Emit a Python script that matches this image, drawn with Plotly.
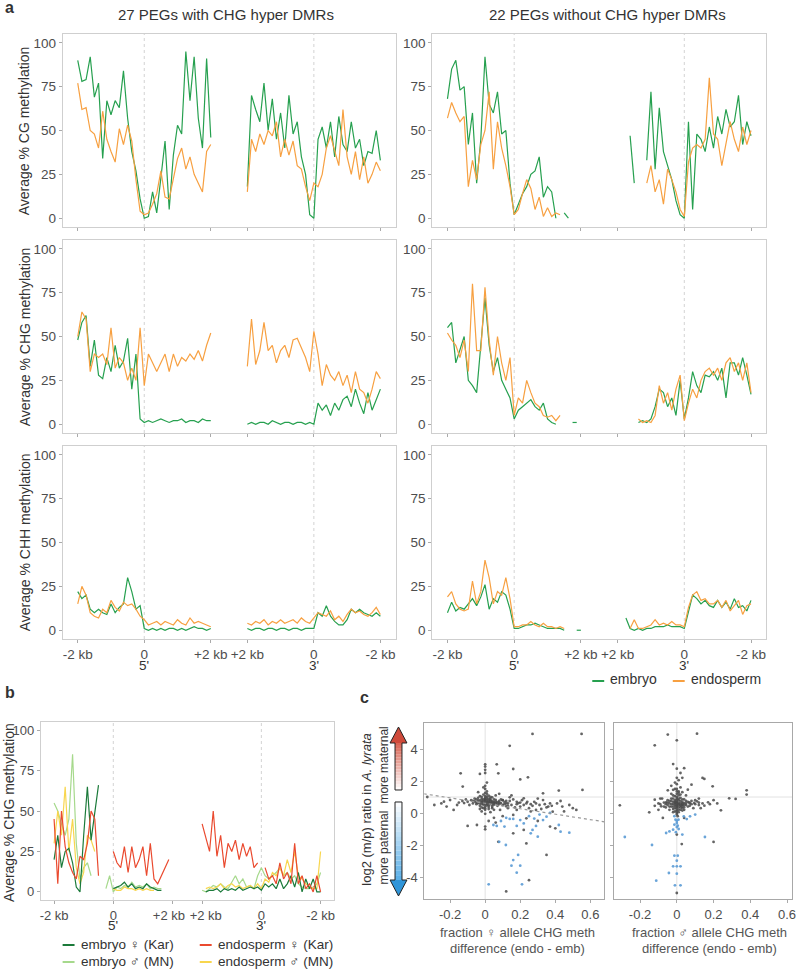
import numpy as np
import plotly.graph_objects as go

W, H = 800, 970
FONT = "Liberation Sans, Arial, sans-serif"

# ---------------- data ----------------
# 33 bins across each 4 kb window (-2 kb .. +2 kb)
BIN_KB = np.linspace(0, 4, 33)
GAP_A = 5.1   # where the 3' window starts on the panel-a axis
GAP_B = 5.0   # same for panel b

TICK_LABELS = ["-2 kb", "0", "+2 kb", "+2 kb", "0", "-2 kb"]
TICK_LABELS_B = ["-2 kb", "0", "+2 kb\u00a0\u00a0", "\u00a0\u00a0+2 kb", "0", "-2 kb"]

# panel a, 27 PEGs with CHG hyper DMRs
cg_with_emb_5 = [90, 78, 79, 92, 69, 77, 34, 67, 59, 67, 63, 84, 57, 38, 27, 11, 0, 1, 15, 3, 23, 44, 5, 36, 53, 48, 95, 67, 92, 57, 40, 91, 46]
cg_with_endo_5 = [77, 62, 63, 50, 48, 40, 61, 45, 38, 32, 51, 42, 53, 44, 22, 4, 2, 3, 8, 14, 27, 12, 11, 23, 34, 40, 28, 35, 25, 20, 15, 38, 42]
cg_with_emb_3 = [18, 70, 62, 55, 77, 50, 68, 45, 60, 40, 70, 48, 55, 35, 25, 2, 0, 45, 52, 40, 55, 35, 58, 42, 38, 55, 40, 45, 30, 38, 37, 50, 33]
cg_with_endo_3 = [15, 45, 38, 48, 42, 50, 47, 55, 35, 45, 36, 44, 30, 28, 18, 10, 20, 18, 25, 40, 47, 38, 30, 62, 35, 25, 38, 22, 35, 20, 25, 32, 27]

chg_with_emb_5 = [48, 58, 62, 33, 48, 28, 26, 38, 30, 45, 32, 36, 49, 20, 40, 3, 1, 2, 1, 2, 3, 2, 1, 2, 2, 3, 1, 2, 2, 1, 3, 2, 2]
chg_with_endo_5 = [50, 64, 60, 30, 40, 38, 40, 34, 55, 32, 38, 35, 25, 32, 25, 55, 22, 40, 35, 30, 35, 40, 30, 40, 33, 38, 36, 40, 37, 42, 36, 45, 52]
chg_with_emb_3 = [0, 1, 0, 1, 1, 0, 2, 1, 0, 1, 1, 0, 1, 1, 0, 1, 0, 12, 8, 11, 5, 12, 8, 14, 16, 10, 20, 12, 6, 18, 8, 14, 20]
chg_with_endo_3 = [33, 60, 34, 42, 58, 42, 45, 35, 42, 45, 38, 48, 49, 44, 38, 30, 53, 40, 22, 34, 28, 25, 30, 22, 28, 18, 30, 20, 18, 12, 20, 30, 26]

chh_with_emb_5 = [22, 18, 20, 12, 10, 12, 10, 9, 15, 10, 13, 15, 30, 22, 12, 14, 1, 0, 1, 0, 1, 0, 1, 1, 0, 1, 0, 1, 2, 1, 1, 0, 1]
chh_with_endo_5 = [15, 25, 20, 10, 8, 7, 12, 10, 17, 13, 11, 16, 14, 15, 12, 8, 6, 3, 4, 5, 3, 5, 4, 3, 6, 4, 3, 7, 4, 5, 4, 3, 2]
chh_with_emb_3 = [1, 0, 1, 1, 0, 1, 1, 0, 1, 1, 0, 1, 1, 0, 1, 1, 1, 10, 8, 14, 8, 5, 3, 3, 6, 12, 10, 12, 10, 9, 8, 10, 8]
chh_with_endo_3 = [4, 3, 5, 4, 6, 3, 5, 4, 6, 4, 5, 6, 4, 7, 5, 4, 7, 10, 9, 8, 11, 6, 8, 5, 9, 12, 10, 11, 9, 8, 10, 13, 9]

# panel a, 22 PEGs without CHG hyper DMRs
cg_without_emb_5 = [68, 85, 90, 73, 75, 42, 60, 20, 45, 92, 65, 60, 72, 48, 50, 20, 2, 8, 14, 18, 25, 27, 35, 12, 18, 15, 0, None, 3, 0, None, None, None]
cg_without_endo_5 = [57, 66, 60, 55, 58, 18, 33, 22, 42, 50, 72, 28, 55, 40, 30, 18, 2, 5, 14, 22, 17, 5, 12, 1, 6, 1, 3, 2, None, None, None, None, None]
cg_without_emb_3 = [None, None, None, 47, 20, None, None, 33, 72, 28, 63, 38, 30, 22, 10, 2, 0, 55, 5, 48, 45, 38, 52, 40, 58, 48, 62, 52, 55, 70, 42, 55, 47]
cg_without_endo_3 = [None, None, None, None, None, None, None, 20, 30, 15, 22, 8, 28, 22, 15, 5, 1, 32, 40, 42, 40, 45, 80, 48, 45, 30, 42, 55, 45, 38, 52, 42, 50]

chg_without_emb_5 = [55, 58, 35, 42, 50, 25, 22, 18, 45, 72, 45, 30, 38, 25, 20, 15, 3, 8, 10, 12, 14, 10, 8, 12, 3, 1, 0, None, None, None, 1, 1, None]
chg_without_endo_5 = [52, 48, 45, 38, 48, 30, 80, 42, 42, 78, 48, 28, 50, 35, 25, 38, 5, 15, 12, 25, 18, 12, 10, 5, 4, 5, 2, 5, None, None, None, None, None]
chg_without_emb_3 = [None, None, None, None, None, 1, 2, 1, 3, 10, 20, 18, 10, 15, 5, 25, 3, 15, 30, 22, 18, 28, 27, 30, 25, 32, 15, 35, 35, 28, 38, 28, 17]
chg_without_endo_3 = [None, None, None, None, None, 3, 1, 2, 1, 5, 22, 12, 18, 8, 20, 28, 2, 12, 20, 15, 25, 30, 32, 28, 32, 25, 35, 38, 30, 35, 25, 35, 18]

chh_without_emb_5 = [10, 16, 11, 13, 12, 15, 18, 14, 19, 26, 12, 18, 16, 22, 20, 12, 1, 1, 2, 3, 3, 4, 3, 2, 1, 1, 1, 1, 0, None, None, 0, 0]
chh_without_endo_5 = [19, 22, 15, 12, 11, 12, 28, 15, 22, 40, 30, 15, 22, 20, 30, 18, 2, 2, 3, 3, 5, 3, 2, 4, 2, 2, 1, 2, 1, None, None, None, None]
chh_without_emb_3 = [None, None, 7, 1, 0, 1, 0, 1, 1, 2, 2, 2, 3, 2, 2, 2, 1, 10, 20, 18, 15, 17, 14, 13, 17, 13, 16, 12, 18, 13, 14, 11, 17]
chh_without_endo_3 = [None, None, None, 1, 6, 1, 1, 2, 3, 6, 3, 4, 3, 5, 3, 3, 2, 13, 20, 22, 17, 18, 15, 15, 17, 13, 17, 11, 14, 17, 9, 14, 15]

# panel b, allele-specific CHG methylation
b_emb_mat_5 = [20, 35, 15, 25, 27, 18, 3, 0, 35, 65, 32, 48, 66, None, None, None, 2, 3, 4, 6, 3, 5, 2, 3, 2, 5, 3, 2, 1, 1, None, None, None]
b_emb_pat_5 = [55, 50, 42, 35, 45, 85, 30, 8, 15, 18, 10, None, None, None, 2, 10, 0, 3, 2, 4, 3, 6, 3, 4, 3, 5, 2, 3, 2, 2, None, None, None]
b_endo_mat_5 = [45, 5, 50, 28, 18, 12, 8, 22, 20, 30, 50, 45, 10, None, None, None, 25, 18, 15, 28, 12, 28, 15, 20, 28, 10, 30, 8, 5, 10, 15, 20, None]
b_endo_pat_5 = [30, 50, 35, 65, 25, 45, 15, 5, 12, 35, 32, 25, None, None, None, None, 2, 1, 1, 3, 2, 2, 1, 2, 1, 2, 1, 1, None, None, None, None, None]
b_emb_mat_3 = [None, 0, 1, 1, 2, 0, 2, 1, 2, 1, 3, 1, 2, 3, 2, 3, 1, 5, 3, 5, 2, 8, 2, 5, 10, 3, 12, 0, 8, 2, 8, 0, 0]
b_emb_pat_3 = [1, 0, 2, 4, 3, 5, 3, 2, 6, 10, 5, 8, 3, 4, 2, 10, 15, 10, 8, 10, 12, 15, 10, 12, 8, 10, 5, 3, 2, 2, 3, 5, 12]
b_endo_mat_3 = [42, 33, 25, 50, 22, 35, 15, 30, 25, 32, 20, 30, 22, 28, 15, 18, None, 15, 8, 10, 5, 18, 8, 12, 5, 30, 5, 10, 2, 5, 0, 10, 0]
b_endo_pat_3 = [None, 2, 3, 2, 3, 5, 2, 4, 5, 3, 4, 2, 3, 4, 2, 5, 2, 8, 6, 12, 10, 15, 10, 20, 12, 25, 10, 8, 5, 3, 2, 2, 25]

# panel c, (x = CHG meth difference, y = log2 m/p)
c_mat_gray = [
    (0.27, 4.94), (0.55, 4.94), (0.14, 4.2), (0.16, 2.75), (-0.14, 2.48), (-0.03, 2.44), (0.066, 3.04),
    (0.075, 2.48), (0.2, 2.1), (0.244, 2.23), (-0.128, 1.65), (0.42, 1.4), (0.555, 1.44), (0.33, 1.23),
    (0, 3.04), (0, 2.9), (0, 2.7), (0, 2.5), (-0.29, 0.5), (-0.235, 0.71), (-0.2, 0.81), (-0.16, 0.5),
    (-0.18, 0.19), (-0.10, -0.81), (-0.047, -0.75), (0, -0.85), (0, -1.02), (-0.33, 1.0), (0.10, 0.8),
    (0.12, 0.6), (0.14, 0.98), (0.18, 0.7), (0.2, 0.4), (0.22, 0.92), (0.235, 0.6), (0.25, 0.3), (0.28, 0.7),
    (0.29, 0.19), (0.31, 0.5), (0.33, 0.81), (0.35, 0.35), (0.37, 0.6), (0.385, 0.08), (0.41, 0.6), (0.44, 0.4),
    (0.48, 0.5), (0.52, 0.19), (0.18, 0.19), (0.085, 0.19), (0.16, -0.12), (0.235, -0.33), (0.37, -0.85),
    (0.40, -0.96), (0.16, -1.27), (0.22, -1.06), (0.35, -2.62), (0.235, -1.9), (0.12, -4.9), (0.075, -1.8),
    (0.25, -4.2), (0.3, -0.5), (0.45, 0.1), (0.5, 0.3), (-0.25, 0.6), (-0.22, 0.4), (0.13, 0.3), (0.26, 0.1),
    (0.32, 0.25), (0.38, 0.45), (0.05, -0.3), (0.1, -0.2), (0.27, 0.45), (0.21, 0.8), (0.15, 1.1), (0.3, 0.9),
    (0.43, 0.75), (0.02, -0.5), (0.06, -0.6),
    (-0.06, 0.72), (-0.05, 0.85), (-0.05, 0.55), (-0.04, 0.95), (-0.04, 0.62), (-0.03, 0.78), (-0.03, 0.45),
    (-0.03, 1.05), (-0.02, 0.68), (-0.02, 0.88), (-0.02, 0.35), (-0.01, 0.75), (-0.01, 0.52), (-0.01, 1.15),
    (0.0, 0.65), (0.0, 0.82), (0.0, 0.42), (0.0, 0.95), (0.0, 1.25), (0.0, 0.2), (0.01, 0.7), (0.01, 0.58),
    (0.01, 0.9), (0.01, 1.35), (0.02, 0.62), (0.02, 0.78), (0.02, 0.48), (0.02, 1.08), (0.03, 0.72),
    (0.03, 0.55), (0.03, 0.88), (0.04, 0.65), (0.04, 0.4), (0.04, 0.98), (0.05, 0.7), (0.05, 0.52),
    (0.06, 0.82), (0.06, 0.6), (0.07, 0.68), (0.07, 0.45), (0.08, 0.75), (0.08, 0.55), (0.09, 0.62),
    (0.1, 0.8), (0.1, 0.5), (0.11, 0.68), (0.12, 0.42), (0.13, 0.6), (-0.07, 0.6), (-0.08, 0.8), (-0.09, 0.5),
    (-0.1, 0.7), (-0.12, 0.62), (0.0, 1.5), (0.0, 1.7), (0.01, 1.9), (-0.01, 1.6), (0.02, 0.25), (-0.02, 0.1),
    (0.03, 0.05), (0.0, -0.05), (0.05, 0.2), (0.06, 1.1), (0.08, 1.2), (-0.04, 1.3), (0.14, 0.75), (0.15, 0.5),
    (0.16, 0.85), (0.17, 0.35), (0.19, 0.62),
    (-0.05, 0.65), (-0.04, 0.78), (-0.03, 0.6), (-0.02, 0.75), (-0.02, 0.55), (-0.01, 0.85), (-0.01, 0.62),
    (0.0, 0.72), (0.0, 0.55), (0.0, 0.88), (0.01, 0.78), (0.01, 0.48), (0.01, 1.02), (0.02, 0.7), (0.02, 0.9),
    (0.03, 0.62), (0.03, 0.8), (0.04, 0.72), (0.04, 0.52), (0.05, 0.62), (0.05, 0.85), (0.06, 0.7),
    (0.07, 0.58), (0.08, 0.65), (-0.06, 0.9), (-0.07, 0.75), (0.0, 1.05), (0.01, 1.2), (-0.02, 1.0),
    (0.03, 1.0), (0.02, 0.38), (-0.01, 0.3), (0.0, 0.3), (0.04, 0.3), (-0.03, 0.25), (0.09, 0.85),
    (0.11, 0.55), (0.12, 0.75), (0.13, 0.45), (-0.11, 0.85), (-0.13, 0.75), (-0.15, 0.65), (0.18, 0.55),
    (0.2, 0.65), (0.22, 0.5), (0.24, 0.7), (0.26, 0.55), (0.29, 0.6), (0.34, 0.55), (0.36, 0.4),
]
c_mat_blue = [
    (0.047, -0.75), (0.066, -0.81), (0.11, -0.85), (0.14, -0.37), (0.16, -0.37), (0.18, -0.81), (0.2, -0.44),
    (0.22, -0.65), (0.26, -1.27), (0.27, -1.06), (0.29, -0.81), (0.30, -1.48), (0.33, -0.44), (0.35, -0.23),
    (0.42, -0.75), (0.43, -1.17), (0.48, -1.23), (0.37, 0.0), (0.118, -2.0), (0.188, -2.62), (0.16, -2.94),
    (0.15, -3.29), (0.2, -3.29), (0.18, -3.73), (0.21, -4.46), (0.02, -4.46), (0.08, -1.8), (0.25, -0.2),
    (0.12, -0.3), (0.28, -0.35), (0.31, -0.1), (0.09, -0.5),
]
c_pat_gray = [
    (-0.049, 4.9), (0.11, 4.96), (0, 4.54), (-0.12, 4.23), (-0.02, 3.06), (0, 2.77), (0.04, 2.8), (0.02, 2.5),
    (0.03, 2.2), (0.08, 1.77), (0.06, 1.46), (0.14, 2.19), (0.15, 2.13), (0.195, 1.67), (0.38, 1.42),
    (0.38, 1.15), (0.32, 0.88), (0.285, 0.92), (0.24, 0.17), (0.17, 0.67), (0.15, 0.46), (-0.31, 0.48),
    (-0.15, 0.04), (-0.12, 0.83), (-0.085, 0.42), (-0.076, -0.31), (-0.058, 0.67), (-0.049, 1.42),
    (0.04, -0.31), (0.03, 0.52), (0.068, 0.67), (0.095, 0.63), (0.11, 0.73), (0.2, -1.81), (0.027, -1.94),
    (0, -1.35), (0.005, -0.2), (0, -5.0), (-0.03, 1.7), (0.05, 1.1), (-0.09, 0.9), (0.13, 0.3), (-0.1, 0.2),
    (0.2, 0.8), (0.12, 0.9),
    (-0.04, 0.6), (-0.03, 0.75), (-0.03, 0.4), (-0.02, 0.9), (-0.02, 0.55), (-0.02, 0.25), (-0.01, 0.65),
    (-0.01, 0.45), (-0.01, 1.05), (-0.01, 0.1), (0.0, 0.5), (0.0, 0.7), (0.0, 0.3), (0.0, 0.9), (0.0, 1.2),
    (0.0, 0.0), (0.0, 1.5), (0.0, 1.8), (0.0, 2.2), (0.01, 0.55), (0.01, 0.8), (0.01, 0.35), (0.01, 1.1),
    (0.01, 1.35), (0.02, 0.6), (0.02, 0.45), (0.02, 0.95), (0.02, 0.2), (0.03, 0.7), (0.03, 0.5), (0.03, 0.3),
    (0.04, 0.62), (0.04, 0.85), (0.05, 0.5), (0.05, 0.75), (-0.05, 0.5), (-0.05, 0.8), (-0.06, 0.35),
    (-0.07, 0.65), (0.06, 0.4), (0.07, 0.6), (0.08, 0.55), (-0.08, 0.9), (-0.03, 1.2), (0.02, 1.6),
    (-0.01, 1.9), (0.01, 2.05), (-0.02, 1.45), (0.03, 1.3), (0.0, 0.6), (0.0, 0.4), (-0.01, 0.8), (0.01, 0.2),
    (0.0, -0.1), (0.04, 0.2), (-0.04, 0.2), (0.1, 0.8), (0.12, 0.5), (-0.1, 0.6), (0.09, 0.3),
    (-0.03, 0.55), (-0.02, 0.7), (-0.02, 0.4), (-0.01, 0.55), (-0.01, 0.3), (-0.01, 0.7), (0.0, 0.45),
    (0.0, 0.65), (0.0, 0.8), (0.0, 0.2), (0.0, 1.0), (0.01, 0.5), (0.01, 0.65), (0.01, 0.9), (0.02, 0.5),
    (0.02, 0.75), (0.02, 0.35), (0.03, 0.6), (0.03, 0.4), (0.03, 0.85), (-0.03, 0.9), (-0.04, 0.4),
    (-0.04, 0.75), (0.04, 0.5), (0.04, 0.35), (-0.02, 1.1), (0.01, 1.25), (0.0, 1.35), (-0.01, 1.5),
    (0.02, 1.15), (-0.05, 0.65), (0.05, 0.6), (0.06, 0.7), (-0.06, 0.55), (0.0, 0.1), (0.01, 0.05),
    (-0.02, 0.05), (0.03, 0.15), (0.07, 0.45), (-0.07, 0.4), (0.08, 0.75), (0.1, 0.55), (-0.09, 0.55),
    (0.12, 0.65), (0.14, 0.6), (0.18, 0.55), (0.22, 0.6), (-0.12, 0.45),
]
c_pat_blue = [
    (-0.283, -1.5), (-0.135, -2.0), (-0.112, -4.23), (-0.043, -3.75), (-0.02, -3.33), (0, -3.33), (0.02, -3.33),
    (-0.013, -2.67), (0.005, -2.67), (0, -2.98), (0, -3.79), (-0.01, -4.52), (0.02, -4.52), (0.153, -1.5),
    (-0.04, -1.15), (-0.02, -1.04), (-0.013, -0.2), (-0.007, -0.42), (0, -0.63), (0.005, -0.79), (0, -0.88),
    (0.009, -0.42), (-0.013, -0.73), (-0.058, -1.25), (0.03, -1.35), (0.1, -0.1), (0.072, -0.21),
    (0.054, -0.38), (0.038, -0.21), (0.0, -0.5), (0.01, -1.0), (-0.005, -1.2),
]
c_fit_x = [-0.35, 0.68]
c_fit_y = [1.2, -0.55]
C_YTICKS = [-4, -2, 0, 2, 4]
C_YLABELS = ["-4", "-2", "0", "2", "4"]
C_XTICKS = [-0.2, 0, 0.2, 0.4, 0.6]
C_XLABELS = ["-0.2", "0", "0.2", "0.4", "0.6"]

# ---------------- style ----------------
GREEN = "#26a04f"
ORANGE = "#f7a041"
B_EMB_MAT = "#1b7a3a"
B_EMB_PAT = "#a6d98c"
B_ENDO_MAT = "#ea4a2f"
B_ENDO_PAT = "#f8d64e"
GRAY_PT = "#4a4a4a"
BLUE_PT = "#5b9bd5"
TICK_COL = "#4d4d4d"


def px(x):
    return x / W


def py(y):
    return 1 - y / H


def sfx(n):
    return "" if n == 1 else str(n)


layout = dict(
    width=W, height=H, margin=dict(l=0, r=0, t=0, b=0),
    plot_bgcolor="white", paper_bgcolor="white", showlegend=False,
    font=dict(family=FONT, color="#333333"),
)
shapes = []
annotations = []


def add_axes(n, xdom, ydom, xrange, yrange, xticks, yticks, xlabels=None, ylabels=None,
             show_x=True, show_y=True, border="#cfcfcf", fsize=13):
    s = sfx(n)
    common = dict(showline=True, mirror=True, linecolor=border, linewidth=1, ticks="outside",
                  ticklen=3, tickcolor="#aaaaaa", showgrid=False, zeroline=False, tickangle=0,
                  tickfont=dict(size=fsize, color=TICK_COL, family=FONT))
    layout["xaxis" + s] = dict(domain=[px(xdom[0]), px(xdom[1])], range=xrange, anchor="y" + s,
                               tickvals=xticks, ticktext=xlabels, showticklabels=show_x, **common)
    layout["yaxis" + s] = dict(domain=[py(ydom[1]), py(ydom[0])], range=yrange, anchor="x" + s,
                               tickvals=yticks, ticktext=ylabels, showticklabels=show_y, **common)


def vline(n, x):
    s = sfx(n)
    shapes.append(dict(type="line", xref="x" + s, yref="y" + s + " domain", x0=x, x1=x, y0=0, y1=1,
                       line=dict(color="#c8c8c8", width=0.8, dash="dot"), layer="below"))


def text(x, y, t, size=14, color="#333333", angle=0, xanchor="center", bold=False):
    annotations.append(dict(x=px(x), y=py(y), xref="paper", yref="paper", text=f"<b>{t}</b>" if bold else t,
                            showarrow=False, textangle=angle, xanchor=xanchor, yanchor="middle",
                            font=dict(size=size, color=color, family=FONT)))


fig = go.Figure()


def profile(n, v5, v3, color, gap, width=1.2):
    s = sfx(n)
    x = list(BIN_KB) + [None] + list(BIN_KB + gap)
    y = list(v5) + [None] + list(v3)
    fig.add_trace(go.Scatter(x=x, y=y, mode="lines", xaxis="x" + s, yaxis="y" + s,
                             line=dict(color=color, width=width), hoverinfo="skip"))


# ---------------- panel a ----------------
A_X = [(62, 397), (434, 770)]
A_Y = [(34, 227), (240, 433), (446, 639)]
a_ticks = [0, 2, 4, GAP_A, GAP_A + 2, GAP_A + 4]

panels_a = [
    (1, cg_with_emb_5, cg_with_emb_3, cg_with_endo_5, cg_with_endo_3),
    (2, cg_without_emb_5, cg_without_emb_3, cg_without_endo_5, cg_without_endo_3),
    (3, chg_with_emb_5, chg_with_emb_3, chg_with_endo_5, chg_with_endo_3),
    (4, chg_without_emb_5, chg_without_emb_3, chg_without_endo_5, chg_without_endo_3),
    (5, chh_with_emb_5, chh_with_emb_3, chh_with_endo_5, chh_with_endo_3),
    (6, chh_without_emb_5, chh_without_emb_3, chh_without_endo_5, chh_without_endo_3),
]
for n, e5, e3, o5, o3 in panels_a:
    r, c = (n - 1) // 2, (n - 1) % 2
    add_axes(n, A_X[c], A_Y[r], [-0.455, GAP_A + 4.455], [-5, 105], a_ticks, [0, 25, 50, 75, 100],
             xlabels=TICK_LABELS, show_x=(r == 2), fsize=13.5)
    vline(n, 2)
    vline(n, GAP_A + 2)
    profile(n, e5, e3, GREEN, GAP_A)
    profile(n, o5, o3, ORANGE, GAP_A)

for c in range(2):
    x0, x1 = A_X[c]
    scale = (x1 - x0) / (GAP_A + 4.91)
    text(x0 + (0.455 + 2) * scale, 665, "5'", size=13.5)
    text(x0 + (0.455 + GAP_A + 2) * scale, 665, "3'", size=13.5)

text(226, 15, "27 PEGs with CHG hyper DMRs", size=15)
text(610, 15, "22 PEGs without CHG hyper DMRs", size=15)
for (y0, y1), t in zip(A_Y, ["Average % CG methylation", "Average % CHG methylation",
                             "Average % CHH methylation"]):
    text(24, (y0 + y1) / 2, t, size=14, angle=-90)

# legend a
for x0, col, lab in [(595, GREEN, "embryo"), (676, ORANGE, "endosperm")]:
    shapes.append(dict(type="line", xref="paper", yref="paper", x0=px(x0), x1=px(x0 + 12),
                       y0=py(681), y1=py(681), line=dict(color=col, width=2)))
    text(x0 + 16, 679, lab, size=14, xanchor="left")

# ---------------- panel b ----------------
b_ticks = [0, 2, 4, GAP_B, GAP_B + 2, GAP_B + 4]
add_axes(7, (40, 335), (722, 900), [-0.45, GAP_B + 4.45], [-5, 105], b_ticks, [0, 25, 50, 75, 100],
         xlabels=TICK_LABELS_B, fsize=13)
vline(7, 2)
vline(7, GAP_B + 2)
profile(7, b_emb_pat_5, b_emb_pat_3, B_EMB_PAT, GAP_B, 1.2)
profile(7, b_endo_pat_5, b_endo_pat_3, B_ENDO_PAT, GAP_B, 1.2)
profile(7, b_emb_mat_5, b_emb_mat_3, B_EMB_MAT, GAP_B, 1.2)
profile(7, b_endo_mat_5, b_endo_mat_3, B_ENDO_MAT, GAP_B, 1.2)
b_scale = (335 - 40) / (GAP_B + 4.9)
text(40 + (0.45 + 2) * b_scale, 925, "5'", size=13.5)
text(40 + (0.45 + GAP_B + 2) * b_scale, 925, "3'", size=13.5)
text(8, 812, "Average % CHG methylation", size=14, angle=-90)

for x0, y0, col, lab in [(62, 944, B_EMB_MAT, "embryo ♀ (Kar)"), (200, 944, B_ENDO_MAT, "endosperm ♀ (Kar)"),
                         (62, 961, B_EMB_PAT, "embryo ♂ (MN)"), (200, 961, B_ENDO_PAT, "endosperm ♂ (MN)")]:
    shapes.append(dict(type="line", xref="paper", yref="paper", x0=px(x0), x1=px(x0 + 12),
                       y0=py(y0 + 1), y1=py(y0 + 1), line=dict(color=col, width=2)))
    text(x0 + 16, y0, lab, size=13.5, xanchor="left")

# ---------------- panel c ----------------
add_axes(8, (426, 607), (723, 899), [-0.347, 0.679], [-5.375, 5.625], C_XTICKS, C_YTICKS,
         xlabels=C_XLABELS, ylabels=C_YLABELS, border="#a8a8a8", fsize=13)
add_axes(9, (617, 796), (723, 899), [-0.341, 0.627], [-5.375, 5.625], C_XTICKS, C_YTICKS,
         xlabels=C_XLABELS, show_y=False, border="#a8a8a8", fsize=13)

for n in (8, 9):
    s = sfx(n)
    shapes.append(dict(type="line", xref="x" + s, yref="y" + s + " domain", x0=0, x1=0, y0=0, y1=1,
                       line=dict(color="#e2e2e2", width=1), layer="below"))
    shapes.append(dict(type="line", xref="x" + s + " domain", yref="y" + s, x0=0, x1=1, y0=1, y1=1,
                       line=dict(color="#e2e2e2", width=1), layer="below"))

for n, gray, blue in [(8, c_mat_gray, c_mat_blue), (9, c_pat_gray, c_pat_blue)]:
    s = sfx(n)
    gx, gy = zip(*gray)
    bx, by = zip(*blue)
    fig.add_trace(go.Scatter(x=gx, y=gy, mode="markers", xaxis="x" + s, yaxis="y" + s,
                             marker=dict(color=GRAY_PT, size=2.8, opacity=0.85), hoverinfo="skip"))
    fig.add_trace(go.Scatter(x=bx, y=by, mode="markers", xaxis="x" + s, yaxis="y" + s,
                             marker=dict(color=BLUE_PT, size=2.8, opacity=0.9), hoverinfo="skip"))

fig.add_trace(go.Scatter(x=c_fit_x, y=c_fit_y, mode="lines", xaxis="x8", yaxis="y8",
                         line=dict(color="#9a9a9a", width=1.2, dash="dot"), hoverinfo="skip"))

text(520, 932, "fraction ♀ allele CHG meth", size=13, color="#555555")
text(520, 948, "difference (endo - emb)", size=13, color="#555555")
text(713, 932, "fraction ♂ allele CHG meth", size=13, color="#555555")
text(713, 948, "difference (endo - emb)", size=13, color="#555555")

text(367, 810, "log2 (m/p) ratio in <i>A. lyrata</i>", size=13, angle=-90)
text(385, 765, "more maternal", size=12, angle=-90)
text(385, 848, "more paternal", size=12, angle=-90)


# gradient arrows next to the panel-c y axis
def hexrgb(h):
    return tuple(int(h[i:i + 2], 16) for i in (1, 3, 5))


def mix(c1, c2, t):
    a, b = hexrgb(c1), hexrgb(c2)
    return "rgb(%d,%d,%d)" % tuple(round(a[i] + (b[i] - a[i]) * t) for i in range(3))


def gradient(x0, x1, y_from, y_to, c_from, c_to, steps=16):
    for i in range(steps):
        ya = y_from + (y_to - y_from) * i / steps
        yb = y_from + (y_to - y_from) * (i + 1) / steps
        shapes.append(dict(type="rect", xref="paper", yref="paper", x0=px(x0), x1=px(x1),
                           y0=py(ya), y1=py(yb), fillcolor=mix(c_from, c_to, (i + 0.5) / steps),
                           line=dict(width=0)))


def path(points):
    return "M " + " L ".join(f"{px(x):.5f},{py(y):.5f}" for x, y in points) + " Z"


cx, sw, hw = 400, 3.5, 8.5
# red (up)
gradient(cx - sw, cx + sw, 790, 743, "#ffffff", "#d8604f")
shapes.append(dict(type="path", xref="paper", yref="paper",
                   path=path([(cx - hw, 743), (cx, 727), (cx + hw, 743)]),
                   fillcolor="#cf4a3a", line=dict(width=0)))
shapes.append(dict(type="path", xref="paper", yref="paper",
                   path=path([(cx - sw, 790), (cx - sw, 743), (cx - hw, 743), (cx, 727),
                              (cx + hw, 743), (cx + sw, 743), (cx + sw, 790)]),
                   line=dict(color="#222222", width=1)))
# blue (down)
gradient(cx - sw, cx + sw, 802, 880, "#ffffff", "#58ade6")
shapes.append(dict(type="path", xref="paper", yref="paper",
                   path=path([(cx - hw, 880), (cx, 896), (cx + hw, 880)]),
                   fillcolor="#2f95d9", line=dict(width=0)))
shapes.append(dict(type="path", xref="paper", yref="paper",
                   path=path([(cx - sw, 802), (cx - sw, 880), (cx - hw, 880), (cx, 896),
                              (cx + hw, 880), (cx + sw, 880), (cx + sw, 802)]),
                   line=dict(color="#222222", width=1)))

# panel letters
text(2, 8, "a", size=16, xanchor="left", bold=True)
text(2, 692, "b", size=16, xanchor="left", bold=True)
text(359, 697, "c", size=16, xanchor="left", bold=True)

layout["shapes"] = shapes
layout["annotations"] = annotations
fig.update_layout(**layout)
# the page body has a default 8px margin; drop it so the figure sits at the window origin
fig.write_html("out.html", config={"displayModeBar": False},
               post_script="document.body.style.margin='0';")
